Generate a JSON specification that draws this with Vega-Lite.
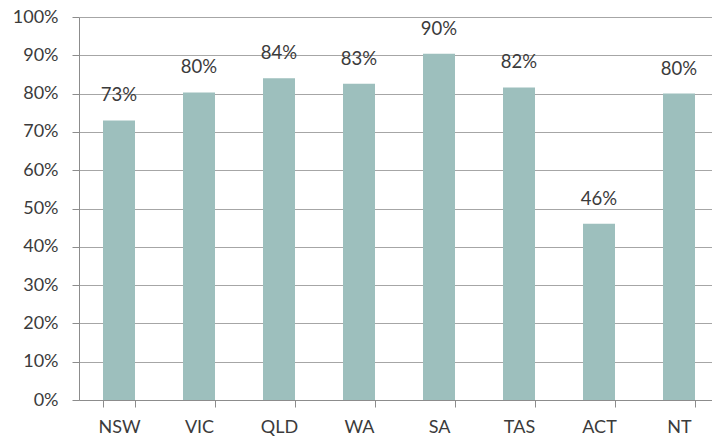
{
  "$schema": "https://vega.github.io/schema/vega-lite/v6.json",
  "autosize": {"type": "none"},
  "padding": {"left": 79, "top": 17, "right": 0, "bottom": 37},
  "width": 640,
  "height": 383,
  "background": "white",
  "config": {
    "view": {"stroke": null},
    "font": "Lato",
    "axis": {"labelFont": "Lato", "labelFontSize": 18, "labelColor": "#3b3b3b"}
  },
  "data": {
    "values": [
      {"state": "NSW", "value": 0.73},
      {"state": "VIC", "value": 0.803},
      {"state": "QLD", "value": 0.84},
      {"state": "WA", "value": 0.826},
      {"state": "SA", "value": 0.904},
      {"state": "TAS", "value": 0.816},
      {"state": "ACT", "value": 0.46},
      {"state": "NT", "value": 0.80}
    ]
  },
  "encoding": {
    "x": {
      "field": "state", "type": "nominal", "sort": null,
      "scale": {"paddingInner": 0.6, "paddingOuter": 0.3},
      "axis": {
        "title": null, "labelAngle": 0, "domainColor": "#8c8c8c", "tickColor": "#8c8c8c",
        "tickBand": "extent", "tickSize": 7, "labelPadding": 11, "grid": false
      }
    },
    "y": {
      "field": "value", "type": "quantitative",
      "scale": {"domain": [0, 1], "nice": false},
      "axis": {
        "title": null, "format": ".0%", "values": [0,0.1,0.2,0.3,0.4,0.5,0.6,0.7,0.8,0.9,1],
        "labelOverlap": false, "labelBound": false, "labelFlush": false,
        "domainColor": "#8c8c8c", "tickColor": "#8c8c8c", "gridColor": "#a6a6a6",
        "tickSize": 7, "labelPadding": 14
      }
    }
  },
  "layer": [
    {"mark": {"type": "bar", "color": "#9dbfbd"}},
    {
      "mark": {"type": "text", "baseline": "bottom", "dy": -15, "fontSize": 18.5, "font": "Lato", "color": "#3b3b3b"},
      "encoding": {"text": {"field": "value", "type": "quantitative", "format": ".0%"}}
    }
  ]
}
